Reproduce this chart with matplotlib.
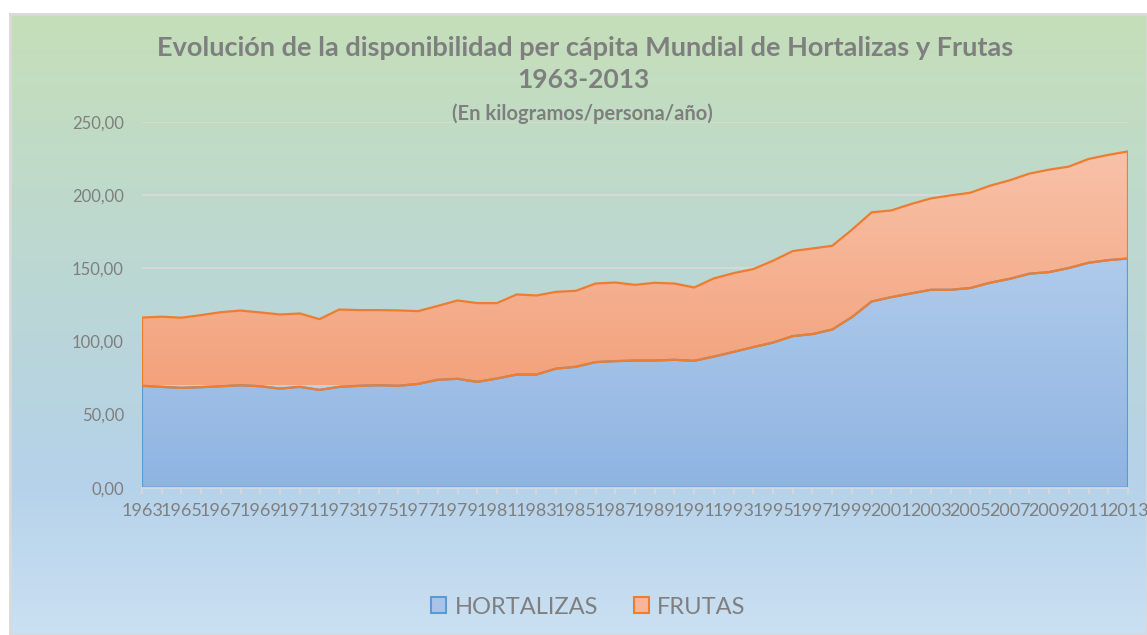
import numpy as np
import matplotlib.pyplot as plt
from matplotlib.colors import LinearSegmentedColormap
from matplotlib.patches import Patch

# Datos (kg/persona/año)
years = list(range(1963, 2014))
hortalizas = [69.7, 69.0, 68.3, 68.8, 69.4, 70.1, 69.4, 67.8, 69.0, 66.9,
              69.0, 69.7, 70.1, 69.7, 71.0, 73.8, 74.5, 72.4, 74.7, 77.4,
              77.4, 81.5, 82.7, 85.9, 86.6, 87.0, 87.0, 87.5, 86.8, 89.7,
              92.9, 96.2, 99.3, 103.7, 105.1, 108.2, 116.7, 127.4, 130.4, 132.9,
              135.4, 135.4, 136.6, 140.2, 142.9, 146.4, 147.5, 150.3, 153.9, 155.7,
              156.8]
frutas = [46.7, 48.0, 48.0, 49.3, 50.7, 51.1, 50.5, 50.7, 50.2, 48.4,
          52.9, 51.8, 51.4, 51.6, 49.8, 50.6, 53.6, 53.9, 51.6, 54.8,
          54.1, 52.5, 52.0, 53.8, 53.8, 51.8, 53.2, 52.2, 50.2, 53.5,
          53.9, 53.4, 56.0, 58.2, 58.6, 57.3, 59.8, 61.0, 59.3, 61.2,
          62.5, 64.6, 65.2, 66.4, 67.4, 68.5, 70.1, 69.4, 71.0, 72.0,
          73.3]
series_names = ['HORTALIZAS', 'FRUTAS']
y_ticks = [0, 50, 100, 150, 200, 250]

title = "Evolución de la disponibilidad per cápita Mundial de Hortalizas y Frutas"
subtitle = "1963-2013"
units = "(En kilogramos/persona/año)"

grey = '#7f7f7f'
plt.rcParams['font.family'] = ['Lato', 'DejaVu Sans']

fig = plt.figure(figsize=(11.47, 6.35), dpi=100)

# fondo con degradado verde -> azul
bg = fig.add_axes([10 / 1147, 0, 1 - 10 / 1147, 621 / 635], zorder=-10)
bg_cmap = LinearSegmentedColormap.from_list(
    'bg', [(0, '#c5dfb9'), (0.45, '#bbd7d5'), (0.75, '#b5d2ea'), (1, '#cbe0f2')])
bg.imshow(np.linspace(0, 1, 256).reshape(-1, 1), aspect='auto', cmap=bg_cmap,
          extent=[0, 1, 0, 1], origin='upper')
bg.set_xticks([])
bg.set_yticks([])
for s in bg.spines.values():
    s.set_color('#d9d9d9')
    s.set_linewidth(2)

ax = fig.add_axes([142 / 1147, 1 - 487.7 / 635, 986 / 1147, 365.4 / 635])
ax.set_facecolor('none')

polys = ax.stackplot(years, hortalizas, frutas, colors=['#9fbde6', '#f5ad8c'])
edge_colors = ['#5b9bd5', '#ed7d31']
grad_colors = [('#8fb4e2', '#b0cbeb'), ('#f3a27c', '#f8c3aa')]
grad_ranges = [(0, 160), (70, 235)]
for poly, ec, (c0, c1), (y0, y1) in zip(polys, edge_colors, grad_colors, grad_ranges):
    cmap = LinearSegmentedColormap.from_list('g', [c0, c1])
    im = ax.imshow(np.linspace(0, 1, 256).reshape(-1, 1), cmap=cmap, aspect='auto',
                   origin='lower', extent=[years[0], years[-1], y0, y1], zorder=0.9)
    im.set_clip_path(poly.get_paths()[0], transform=ax.transData)
    poly.set_facecolor('none')
    poly.set_edgecolor(ec)
    poly.set_linewidth(1.6)

ax.set_xlim(years[0], years[-1])
ax.set_ylim(0, 250)

ax.set_xticks(years)
ax.set_xticklabels([str(y) if (y - years[0]) % 2 == 0 else '' for y in years])
ax.set_yticks(y_ticks)
ax.set_yticklabels([f"{v:.2f}".replace('.', ',') for v in y_ticks])
ax.tick_params(axis='x', length=4, width=1.2, color='#d9d9d9', labelcolor=grey,
               labelsize=13, pad=7)
ax.tick_params(axis='y', length=0, labelcolor=grey, labelsize=12, pad=13)

ax.grid(axis='y', color='#d9d9d9', linewidth=1.3)
ax.set_axisbelow(True)
for side in ['top', 'right', 'left']:
    ax.spines[side].set_visible(False)
ax.spines['bottom'].set_color('#d9d9d9')
ax.spines['bottom'].set_linewidth(1.3)

fig.text(0.51, 1 - 48 / 635, title, ha='center', va='center', fontsize=19.5,
         fontweight='bold', color=grey)
fig.text(0.509, 1 - 80 / 635, subtitle, ha='center', va='center', fontsize=19,
         fontweight='bold', color=grey)
fig.text(0.508, 1 - 114 / 635, units, ha='center', va='center', fontsize=14.5,
         fontweight='bold', color=grey)

handles = [Patch(facecolor=fc, edgecolor=ec, linewidth=1.5)
           for fc, ec in zip(['#a9c4e8', '#f7b599'], edge_colors)]
fig.legend(handles, series_names, loc='center', bbox_to_anchor=(0.513, 1 - 607 / 635),
           ncol=2, frameon=False, fontsize=17, labelcolor=grey,
           handlelength=0.65, handleheight=0.65, handletextpad=0.35, columnspacing=1.5)

fig.savefig('out.png', dpi=100)
